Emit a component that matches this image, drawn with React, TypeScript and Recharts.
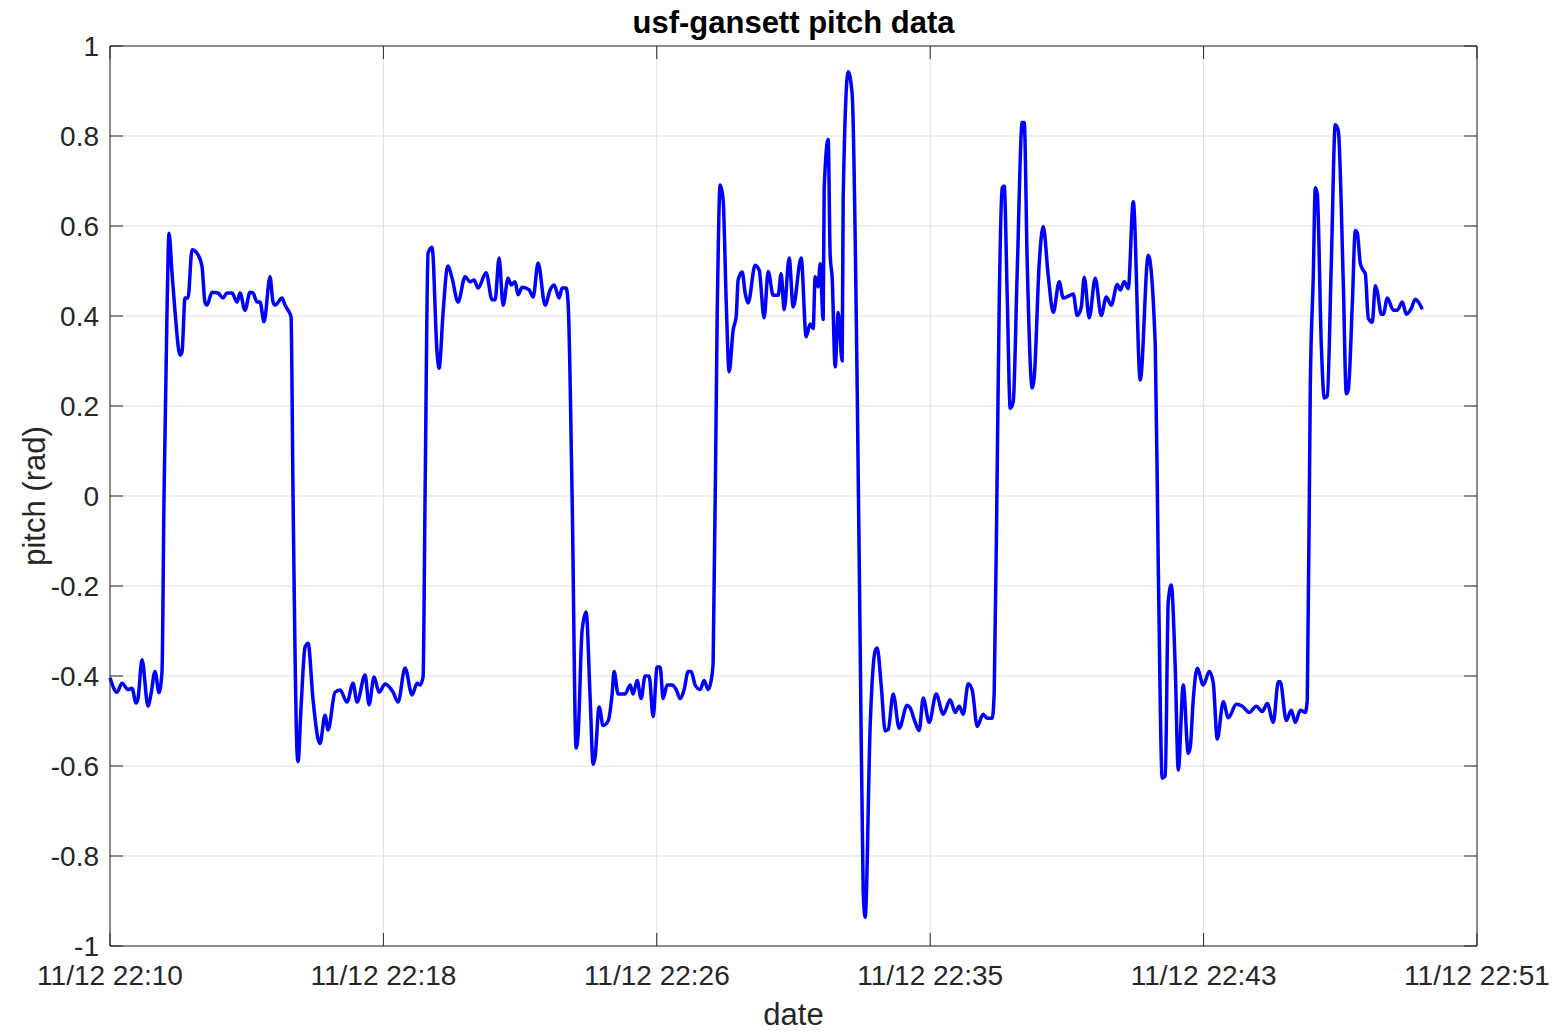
import { LineChart, Line, XAxis, YAxis, CartesianGrid, ReferenceLine } from "recharts";

// elapsed minutes since 11/12 22:10
const timeMin = [
  0.0, 0.21, 0.36, 0.54, 0.66, 0.78, 0.84, 0.96, 1.14, 1.23, 1.35, 1.47, 1.56, 1.62, 1.71, 1.77, 1.86, 1.95, 2.1, 2.16,
  2.25, 2.34, 2.46, 2.64, 2.76, 2.85, 2.91, 3.06, 3.24, 3.39, 3.51, 3.66, 3.81, 3.9, 4.05, 4.2, 4.29, 4.41, 4.5, 4.62,
  4.8, 4.89, 4.95, 5.16, 5.25, 5.34, 5.43, 5.49, 5.61, 5.64, 5.73, 5.85, 5.94, 6.09, 6.24, 6.3, 6.45, 6.54, 6.75, 6.9,
  7.11, 7.29, 7.41, 7.65, 7.77, 7.92, 8.07, 8.25, 8.37, 8.49, 8.64, 8.85, 9.06, 9.21, 9.3, 9.39, 9.45, 9.54, 9.66, 9.81,
  9.87, 9.99, 10.11, 10.14, 10.26, 10.44, 10.65, 10.8, 10.92, 11.04, 11.28, 11.46, 11.55, 11.67, 11.79, 11.94, 12.03, 12.15, 12.24, 12.36,
  12.57, 12.69, 12.84, 13.05, 13.2, 13.32, 13.47, 13.56, 13.68, 13.74, 13.86, 13.98, 14.04, 14.16, 14.28, 14.4, 14.49, 14.55, 14.67, 14.79,
  14.94, 15.06, 15.12, 15.24, 15.45, 15.6, 15.69, 15.81, 15.93, 16.05, 16.17, 16.29, 16.41, 16.5, 16.59, 16.71, 16.86, 16.98, 17.1, 17.22,
  17.34, 17.43, 17.55, 17.7, 17.82, 17.94, 18.03, 18.09, 18.21, 18.3, 18.39, 18.48, 18.57, 18.69, 18.78, 18.84, 18.96, 19.05, 19.14, 19.35,
  19.47, 19.62, 19.74, 19.89, 20.04, 20.13, 20.22, 20.37, 20.49, 20.73, 20.88, 21.0, 21.09, 21.15, 21.24, 21.3, 21.39, 21.42, 21.54, 21.6,
  21.66, 21.75, 21.84, 21.96, 21.99, 22.14, 22.26, 22.41, 22.5, 22.59, 22.65, 22.8, 22.95, 23.01, 23.13, 23.25, 23.34, 23.49, 23.67, 23.91,
  24.0, 24.15, 24.27, 24.39, 24.57, 24.78, 24.99, 25.2, 25.35, 25.47, 25.59, 25.74, 25.86, 26.01, 26.19, 26.31, 26.46, 26.52, 26.61, 26.67,
  26.76, 26.82, 26.91, 27.0, 27.09, 27.21, 27.36, 27.42, 27.51, 27.66, 27.72, 27.87, 27.99, 28.14, 28.29, 28.47, 28.59, 28.74, 28.89, 29.01,
  29.13, 29.22, 29.37, 29.55, 29.73, 29.88, 30.03, 30.21, 30.3, 30.42, 30.54, 30.69, 30.9, 31.14, 31.35, 31.44, 31.56, 31.65, 31.74, 31.83,
  31.95, 32.04, 32.19, 32.34, 32.4, 32.49, 32.61, 32.79, 32.97, 33.09, 33.21, 33.39, 33.54, 33.78, 33.96, 34.17, 34.38, 34.56, 34.71, 34.89,
  35.04, 35.1, 35.28, 35.43, 35.55, 35.7, 35.85, 35.91, 36.0, 36.09, 36.15, 36.21, 36.33, 36.42, 36.51, 36.63, 36.75, 36.84, 36.99, 37.08,
  37.14, 37.26, 37.35, 37.41, 37.5, 37.59, 37.65, 37.74, 37.86, 37.95, 38.01, 38.13, 38.19, 38.31, 38.49, 38.61, 38.76, 38.88, 39.03, 39.15,
  39.24, 39.36,
];

// pitch in rad
const pitch = [
  -0.404, -0.436, -0.416, -0.43, -0.427, -0.46, -0.45, -0.364, -0.467, -0.44, -0.39, -0.437, -0.39, 0.0, 0.41, 0.584, 0.496, 0.41, 0.313, 0.32,
  0.44, 0.44, 0.547, 0.536, 0.51, 0.43, 0.424, 0.453, 0.451, 0.44, 0.451, 0.451, 0.431, 0.451, 0.413, 0.453, 0.451, 0.431, 0.431, 0.387,
  0.487, 0.431, 0.424, 0.44, 0.424, 0.413, 0.398, 0.0, -0.57, -0.59, -0.47, -0.336, -0.327, -0.453, -0.54, -0.55, -0.487, -0.52, -0.436, -0.431,
  -0.458, -0.416, -0.458, -0.398, -0.464, -0.402, -0.436, -0.418, -0.424, -0.436, -0.458, -0.382, -0.442, -0.416, -0.42, -0.402, 0.0, 0.54, 0.553, 0.318,
  0.284, 0.407, 0.507, 0.511, 0.484, 0.431, 0.487, 0.476, 0.48, 0.462, 0.496, 0.436, 0.436, 0.529, 0.424, 0.484, 0.469, 0.476, 0.447, 0.464,
  0.458, 0.442, 0.518, 0.424, 0.458, 0.469, 0.44, 0.462, 0.462, 0.429, 0.0, -0.56, -0.53, -0.298, -0.258, -0.447, -0.596, -0.58, -0.469, -0.51,
  -0.5, -0.44, -0.39, -0.44, -0.44, -0.42, -0.44, -0.41, -0.45, -0.4, -0.4, -0.49, -0.38, -0.38, -0.45, -0.42, -0.42, -0.43, -0.45, -0.43,
  -0.39, -0.39, -0.42, -0.43, -0.41, -0.43, -0.41, -0.37, 0.398, 0.691, 0.658, 0.436, 0.276, 0.369, 0.398, 0.48, 0.498, 0.451, 0.429, 0.513,
  0.502, 0.396, 0.499, 0.446, 0.446, 0.494, 0.414, 0.529, 0.42, 0.529, 0.354, 0.382, 0.372, 0.487, 0.465, 0.516, 0.392, 0.682, 0.792, 0.535,
  0.484, 0.287, 0.408, 0.3, 0.662, 0.943, 0.892, 0.242, -0.331, -0.879, -0.936, -0.51, -0.344, -0.338, -0.42, -0.522, -0.519, -0.44, -0.516, -0.465,
  -0.471, -0.503, -0.521, -0.449, -0.503, -0.44, -0.485, -0.453, -0.481, -0.467, -0.485, -0.417, -0.431, -0.512, -0.485, -0.494, -0.494, -0.435, 0.064, 0.426,
  0.685, 0.689, 0.444, 0.195, 0.209, 0.499, 0.83, 0.83, 0.517, 0.24, 0.263, 0.517, 0.599, 0.49, 0.408, 0.476, 0.44, 0.444, 0.449, 0.401,
  0.419, 0.486, 0.396, 0.484, 0.401, 0.442, 0.424, 0.47, 0.458, 0.476, 0.461, 0.654, 0.258, 0.535, 0.336, -0.152, -0.627, -0.622, -0.235, -0.198,
  -0.383, -0.609, -0.42, -0.572, -0.558, -0.452, -0.383, -0.42, -0.39, -0.415, -0.54, -0.457, -0.493, -0.463, -0.467, -0.481, -0.467, -0.479, -0.461, -0.503,
  -0.413, -0.413, -0.499, -0.476, -0.503, -0.476, -0.481, -0.453, 0.245, 0.49, 0.685, 0.671, 0.336, 0.218, 0.222, 0.517, 0.825, 0.812, 0.472, 0.227,
  0.236, 0.426, 0.59, 0.585, 0.517, 0.501, 0.494, 0.395, 0.386, 0.467, 0.454, 0.404, 0.404, 0.44, 0.413, 0.413, 0.431, 0.404, 0.417, 0.437,
  0.431, 0.415,
];

const xTicks = [0, 8.2, 16.4, 24.6, 32.8, 41];
const xTickLabels = ["11/12 22:10", "11/12 22:18", "11/12 22:26", "11/12 22:35", "11/12 22:43", "11/12 22:51"];
const yTicks = [-1, -0.8, -0.6, -0.4, -0.2, 0, 0.2, 0.4, 0.6, 0.8, 1];

const data = timeMin.map((t, i) => ({ t, pitch: pitch[i] }));

const W = 1546;
const H = 1020;
const MARGIN = { top: 38, right: 77, left: 0, bottom: 0 };
const Y_AXIS_W = 102;
const X_AXIS_H = 82;
const PLOT_W = W - MARGIN.left - MARGIN.right - Y_AXIS_W; // 1367
const PLOT_H = H - MARGIN.top - MARGIN.bottom - X_AXIS_H; // 900
const CENTER_X = MARGIN.left + Y_AXIS_W + PLOT_W / 2;
const TICK_LEN = 13;
const TICK_FONT = 28;
const LABEL_FONT = 31;
const FONT = '"Liberation Sans", Arial, Helvetica, sans-serif';
const INK = "#262626";

// matlab style: ticks point inward, on both sides of the box
function YTick(props: any) {
  const { x, y, payload } = props;
  const edge = x + 11;
  return (
    <g>
      <line x1={edge} x2={edge + TICK_LEN} y1={y} y2={y} stroke={INK} />
      <line x1={edge + PLOT_W - TICK_LEN} x2={edge + PLOT_W} y1={y} y2={y} stroke={INK} />
      <text x={x} y={y + 10} textAnchor="end" fontSize={TICK_FONT} fontFamily={FONT} fill={INK}>
        {String(payload.value)}
      </text>
    </g>
  );
}

function XTick(props: any) {
  const { x, y, payload } = props;
  const label = xTickLabels[xTicks.indexOf(payload.value)] ?? "";
  return (
    <g>
      <line x1={x} x2={x} y1={y} y2={y - TICK_LEN} stroke={INK} />
      <line x1={x} x2={x} y1={y - PLOT_H} y2={y - PLOT_H + TICK_LEN} stroke={INK} />
      <text x={x} y={y + 39} textAnchor="middle" fontSize={TICK_FONT} fontFamily={FONT} fill={INK}>
        {label}
      </text>
    </g>
  );
}

export default function App() {
  return (
    <div style={{ position: "relative", width: W, height: H, fontFamily: FONT, color: INK }}>
      <LineChart width={W} height={H} data={data} margin={MARGIN}>
        <CartesianGrid stroke="#dfdfdf" strokeWidth={1} />
        <XAxis
          dataKey="t"
          type="number"
          domain={[0, 41]}
          ticks={xTicks}
          interval={0}
          height={X_AXIS_H}
          tickSize={0}
          tickMargin={0}
          tickLine={false}
          axisLine={{ stroke: INK }}
          tick={<XTick />}
        />
        <YAxis
          type="number"
          domain={[-1, 1]}
          ticks={yTicks}
          interval={0}
          width={Y_AXIS_W}
          tickSize={0}
          tickMargin={11}
          tickLine={false}
          axisLine={{ stroke: INK }}
          tick={<YTick />}
          allowDataOverflow
        />
        <ReferenceLine y={1} stroke={INK} />
        <ReferenceLine x={41} stroke={INK} />
        <Line
          type="monotone"
          dataKey="pitch"
          stroke="#0000ff"
          strokeWidth={3.5}
          strokeLinejoin="round"
          dot={false}
          isAnimationActive={false}
        />
      </LineChart>
      <div
        style={{
          position: "absolute",
          left: 0,
          width: 2 * CENTER_X,
          top: -1,
          textAlign: "center",
          fontSize: LABEL_FONT,
          lineHeight: `${LABEL_FONT}px`,
          fontWeight: "bold",
          color: "#000",
        }}
      >
        usf-gansett pitch data
      </div>
      <div
        style={{
          position: "absolute",
          left: 0,
          width: 2 * CENTER_X,
          top: 991,
          textAlign: "center",
          fontSize: LABEL_FONT,
          lineHeight: `${LABEL_FONT}px`,
        }}
      >
        date
      </div>
      <div
        style={{
          position: "absolute",
          left: 26,
          top: 488,
          transform: "translate(-50%, -50%) rotate(-90deg)",
          whiteSpace: "nowrap",
          fontSize: LABEL_FONT,
          lineHeight: `${LABEL_FONT}px`,
        }}
      >
        pitch (rad)
      </div>
    </div>
  );
}
